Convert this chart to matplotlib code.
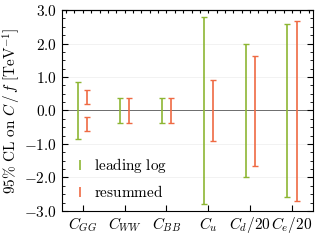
import matplotlib
matplotlib.use("Agg")
import numpy as np
import matplotlib.pyplot as plt
from matplotlib.ticker import MultipleLocator, FuncFormatter
from matplotlib.lines import Line2D

plt.rcParams['mathtext.fontset'] = 'cm'
plt.rcParams['font.family'] = 'DejaVu Serif'

labels = [r'$C_{GG}$', r'$C_{WW}$', r'$C_{BB}$', r'$C_{u}$', r'$C_{d}/20$', r'$C_{e}/20$']
# leading log bounds (low, high)
ll_low = [-0.84, -0.38, -0.37, -2.80, -2.00, -2.57]
ll_high = [0.84, 0.37, 0.37, 2.80, 2.00, 2.57]
# resummed bounds, C_GG has two separate intervals
rs_intervals = [
    [(0.18, 0.60), (-0.60, -0.18)],
    [(-0.36, 0.36)],
    [(-0.36, 0.36)],
    [(-0.92, 0.90)],
    [(-1.67, 1.64)],
    [(-2.69, 2.66)],
]

green = '#8db633'
red = '#ef6a43'
off = 0.11

fig = plt.figure(figsize=(3.16, 2.45), dpi=100)
ax = fig.add_axes([0.196, 0.139, 0.794, 0.82])

ax.axhline(0, color='#555555', lw=0.6, zorder=1)
for y in [-2, -1, 1, 2]:
    ax.axhline(y, color='#f0f0f0', lw=0.6, zorder=0)

for i in range(len(labels)):
    lo, hi = ll_low[i], ll_high[i]
    ax.errorbar(i - off, (lo + hi) / 2, yerr=(hi - lo) / 2, fmt='none',
                ecolor=green, elinewidth=1.2, capsize=2.2, capthick=1.0, zorder=3)
    for lo, hi in rs_intervals[i]:
        ax.errorbar(i + off, (lo + hi) / 2, yerr=(hi - lo) / 2, fmt='none',
                    ecolor=red, elinewidth=1.2, capsize=2.2, capthick=1.0, zorder=3)

ax.set_xlim(-0.5, len(labels) - 0.5)
ax.set_ylim(-3, 3)
ax.set_xticks(range(len(labels)))
ax.set_xticklabels(labels, fontsize=11)
ax.yaxis.set_major_locator(MultipleLocator(1.0))
ax.yaxis.set_minor_locator(MultipleLocator(0.25))
ax.yaxis.set_major_formatter(FuncFormatter(lambda v, p: r'$%.1f$' % v))
ax.tick_params(axis='y', which='both', direction='in', right=True, labelsize=11)
ax.tick_params(axis='y', which='major', length=4)
ax.tick_params(axis='y', which='minor', length=2.5)
ax.tick_params(axis='x', direction='in', length=4, pad=3)

top = ax.secondary_xaxis('top')
top.set_xticks(np.arange(-0.4, len(labels) - 0.5, 0.2))
top.tick_params(direction='in', length=2.5, labeltop=False)
for s in list(ax.spines.values()) + [top.spines['top']]:
    s.set_linewidth(0.8)

ax.set_ylabel(r'$95\%\ \mathrm{CL\ on}\ C\,/\,f\ [\mathrm{TeV}^{-1}]$', fontsize=11, labelpad=1)

handles = [Line2D([], [], color=green, marker='|', ls='none', markersize=7, mew=1.2),
           Line2D([], [], color=red, marker='|', ls='none', markersize=7, mew=1.2)]
ax.legend(handles, [r'$\mathrm{leading\ log}$', r'$\mathrm{resummed}$'], loc='lower left',
          frameon=False, fontsize=11, handlelength=1.0, handletextpad=0.4,
          borderaxespad=0.3, labelspacing=0.6)

fig.savefig('out.png', dpi=100)
